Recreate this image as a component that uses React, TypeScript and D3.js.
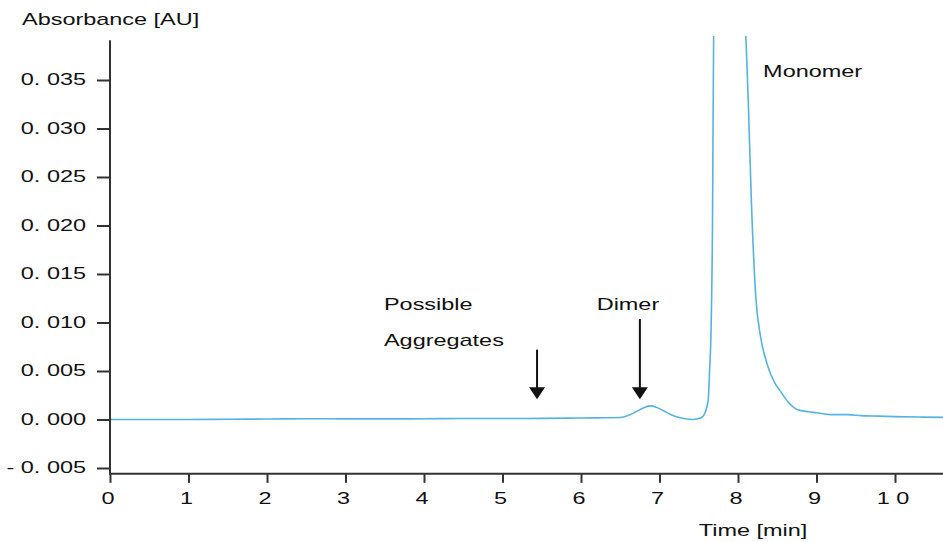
import React, { useEffect, useRef } from 'react';
import * as d3 from 'd3';

// chromatogram trace (time in min, absorbance in AU)
const times = [
  0, 0.5, 1, 1.5, 2, 2.5, 3, 3.5, 4, 4.5, 5, 5.5, 6, 6.3, 6.5, 6.6, 6.7, 6.8, 6.88, 6.95,
  7.05, 7.15, 7.25, 7.35, 7.42, 7.5, 7.55, 7.58, 7.62, 7.64, 7.656, 7.675, 7.69, 7.9,
  8.1, 8.13, 8.17, 8.23, 8.28, 8.38, 8.46, 8.55, 8.65, 8.76, 8.9, 9.0, 9.18, 9.4, 9.57,
  9.8, 10.0, 10.3, 10.62,
];
const absorbance = [
  0, 0, 0, 0.00002, 0.00005, 0.00008, 0.00006, 0.00006, 0.00008, 0.0001, 0.0001, 0.00012,
  0.00015, 0.00018, 0.0002, 0.0004, 0.0008, 0.0012, 0.0014, 0.0013,
  0.0009, 0.0005, 0.0002, 0.00005, 0.0, 0.0001, 0.0003, 0.0007, 0.002, 0.0054, 0.0089,
  0.02, 0.04, 0.1,
  0.0395, 0.033, 0.0226, 0.0123, 0.0089, 0.0055, 0.0039, 0.0028, 0.0017, 0.001, 0.0008,
  0.0007, 0.0005, 0.0005, 0.0004, 0.00035, 0.0003, 0.00025, 0.00022,
];

const yTicks = [-0.005, 0, 0.005, 0.01, 0.015, 0.02, 0.025, 0.03, 0.035];
const xTicks = [0, 1, 2, 3, 4, 5, 6, 7, 8, 9, 10];

// annotations: label lines, text anchor (t, AU), arrow x (t), arrow start/end (AU)
const labels = [
  { lines: ['Possible', 'Aggregates'], t: 3.49, v: 0.0113 },
  { lines: ['Dimer'], t: 6.2, v: 0.0113 },
  { lines: ['Monomer'], t: 8.32, v: 0.0353 },
];
const arrows = [
  { t: 5.44, from: 0.0072, to: 0.0021 },
  { t: 6.75, from: 0.01036, to: 0.0021 },
];

const W = 943;
const H = 542;
const SX = 1.38; // text in the picture is stretched horizontally
const FONT = 'Liberation Sans, Arial, sans-serif';

const fmtY = (v: number) =>
  (v < 0 ? '- ' : '') + '0. ' + String(Math.round(Math.abs(v) * 1000)).padStart(3, '0');
const fmtX = (v: number) => String(v).split('').join(' ');

const App: React.FC = () => {
  const svgRef = useRef<SVGSVGElement>(null);

  useEffect(() => {
    if (!svgRef.current) return;
    const svg = d3.select(svgRef.current);
    svg.selectAll('*').remove();

    const x = d3.scaleLinear().domain([0, 10]).range([110, 895]);
    const y = d3.scaleLinear().domain([-0.005, 0.035]).range([468, 80]);
    const axisColor = '#333';

    svg.append('defs')
      .append('clipPath')
      .attr('id', 'plot-clip')
      .append('rect')
      .attr('x', x(0))
      .attr('y', 36)
      .attr('width', W - x(0))
      .attr('height', y(-0.0056) - 36);

    // trace
    const pts = times.map((t, i) => [t, absorbance[i]] as [number, number]);
    const line = d3.line<[number, number]>()
      .x(d => x(d[0]))
      .y(d => y(d[1]))
      .curve(d3.curveMonotoneX);
    svg.append('path')
      .datum(pts)
      .attr('clip-path', 'url(#plot-clip)')
      .attr('fill', 'none')
      .attr('stroke', '#55b3e0')
      .attr('stroke-width', 1.6)
      .attr('d', line);

    // axes
    const xAxis = svg.append('g')
      .attr('transform', `translate(0,${y(-0.0056)})`)
      .call(d3.axisBottom(x).tickValues(xTicks).tickSize(9).tickSizeOuter(0).tickFormat(() => ''));
    xAxis.select('.domain').remove();
    xAxis.selectAll('line').attr('stroke', axisColor).attr('stroke-width', 2);
    svg.append('line')
      .attr('x1', x(0) - 1).attr('x2', W)
      .attr('y1', y(-0.0056)).attr('y2', y(-0.0056))
      .attr('stroke', axisColor).attr('stroke-width', 2);

    const yAxis = svg.append('g')
      .attr('transform', `translate(${x(0)},0)`)
      .call(d3.axisLeft(y).tickValues(yTicks).tickSize(13).tickSizeOuter(0).tickFormat(() => ''));
    yAxis.select('.domain').remove();
    yAxis.selectAll('line').attr('stroke', axisColor).attr('stroke-width', 2);
    svg.append('line')
      .attr('x1', x(0)).attr('x2', x(0))
      .attr('y1', y(0.0391)).attr('y2', y(-0.0056) + 1)
      .attr('stroke', axisColor).attr('stroke-width', 2);

    const text = (str: string, tx: number, ty: number, anchor = 'start') =>
      svg.append('text')
        .attr('transform', `translate(${tx},${ty}) scale(${SX},1)`)
        .attr('text-anchor', anchor)
        .attr('font-family', FONT)
        .attr('font-size', 17)
        .attr('fill', '#111')
        .text(str);

    yTicks.forEach(v => text(fmtY(v), 86, y(v) + 5, 'end'));
    xTicks.forEach(v => text(fmtX(v), x(v) - 2, 504, 'middle'));

    text('Absorbance [AU]', 22, 25);
    text('Time [min]', 753, 536, 'middle');

    labels.forEach(l => {
      l.lines.forEach((s, i) => text(s, x(l.t), y(l.v) + i * 36));
    });

    arrows.forEach(a => {
      const ax = x(a.t);
      const y1 = y(a.from);
      const y2 = y(a.to);
      svg.append('line')
        .attr('x1', ax).attr('x2', ax)
        .attr('y1', y1).attr('y2', y2 - 8)
        .attr('stroke', '#111').attr('stroke-width', 2);
      svg.append('path')
        .attr('d', `M${ax - 8},${y2 - 12} L${ax + 8},${y2 - 12} L${ax},${y2} Z`)
        .attr('fill', '#111');
    });
  }, []);

  return <svg ref={svgRef} width={W} height={H} style={{ display: 'block', position: 'absolute', left: 0, top: 0 }} />;
};

export default App;
